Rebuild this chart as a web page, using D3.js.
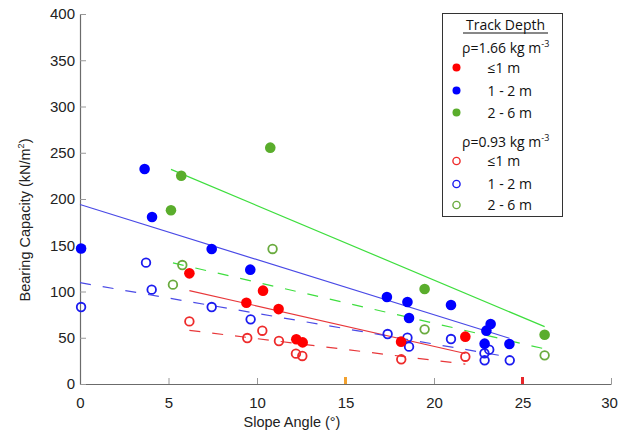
<!DOCTYPE html>
<html><head><meta charset="utf-8">
<script src="https://cdn.jsdelivr.net/npm/d3@7"></script>
<style>body{margin:0;background:#fff}svg{display:block}</style>
</head><body>
<svg id="c" width="618" height="434"></svg>
<script>
// Data: [slope angle (deg), bearing capacity (kN/m2)]
const dense_le1 = [[6.18,119.6],[9.4,87.9],[10.34,100.9],[11.22,81],[12.22,48.3],[12.58,45],[18.14,45.8],[21.77,51.2]];
const dense_1to2 = [[0.06,146.5],[3.65,232.5],[4.07,180.5],[7.44,146],[9.62,123.6],[17.34,94],[18.5,88.6],[18.59,71.4],[20.96,85.4],[22.96,57.7],[23.2,64.9],[22.86,43.6],[24.26,43.2]];
const dense_2to6 = [[5.14,187.8],[5.72,225.2],[10.75,255.5],[19.47,102.7],[26.25,53.3]];
const loose_le1 = [[6.18,67.7],[9.45,49.7],[10.3,57.6],[11.24,46.5],[12.2,32.8],[12.56,30.3],[18.15,26.7],[21.77,29.5]];
const loose_1to2 = [[0.06,83.2],[3.73,131.2],[4.05,102],[7.44,83.2],[9.64,69.9],[17.38,54],[18.5,50],[18.59,40.4],[20.96,48.6],[22.85,33.2],[23.12,37.1],[22.86,25.6],[24.28,25.6]];
const loose_2to6 = [[5.25,107.4],[5.78,128.6],[10.88,146],[19.47,59.1],[26.25,31]];
// Trend lines: [[x0,y0],[x1,y1]]
const trend_dense_le1 = [[6.18,101],[21.77,33]];
const trend_dense_1to2 = [[0,194],[24.26,49.5]];
const trend_dense_2to6 = [[5.14,232],[26.25,62]];
const trend_loose_le1 = [[6.18,58],[21.77,21.5]];
const trend_loose_1to2 = [[0,109.5],[24.28,29]];
const trend_loose_2to6 = [[5.25,131],[26.25,38]];
const xTicks = [0,5,10,15,20,25,30];
const yTicks = [0,50,100,150,200,250,300,350,400];
const markedAngles = [15,25];
const legendLabels = ["\u22641 m","1 - 2 m","2 - 6 m"];

const svg = d3.select("#c");
const x = d3.scaleLinear().domain([0,30]).range([80,611]);
const y = d3.scaleLinear().domain([0,400]).range([384,14]);
const axisCol = "#6b6b6b";
const fillCols = {r:"#ff0000", b:"#0000ff", g:"#5aad2c"};
const openCols = {r:"#ee2b2b", b:"#1b1bf0", g:"#6aab3f"};
const lineCols = {r:"#e8373a", b:"#4a4ae6", g:"#3ede3e"};

// axes
const xAxis = d3.axisBottom(x).tickValues(xTicks).tickSizeInner(-6).tickSizeOuter(0).tickPadding(10);
const yAxis = d3.axisLeft(y).tickValues(yTicks).tickSizeInner(-6).tickSizeOuter(0).tickPadding(5);
const gx = svg.append("g").attr("transform","translate(0,384)").call(xAxis);
const gy = svg.append("g").attr("transform","translate(80,0)").call(yAxis);
[gx,gy].forEach(g=>{
  g.select(".domain").attr("stroke",axisCol).attr("stroke-width",1.2);
  g.selectAll(".tick line").attr("stroke","#999");
  g.selectAll(".tick text").attr("fill","#222").attr("font-family","Liberation Sans, Arial, sans-serif").attr("font-size",15);
});
gx.selectAll(".tick text").attr("dy","0.9em").attr("dx",d=>d===30?-2:0);

// coloured marks on x axis
svg.selectAll("rect.mark").data(markedAngles).enter().append("rect")
  .attr("x",d=>x(d)-1.5).attr("y",377).attr("width",3).attr("height",7)
  .attr("fill",(d,i)=>i===0?"#f2a12e":"#e8262a");

// axis labels
svg.append("text").attr("x",292).attr("y",427).attr("text-anchor","middle")
  .attr("font-family","Liberation Sans, Arial, sans-serif").attr("font-size",14.5).attr("fill","#222")
  .text("Slope Angle (\u00b0)");
const yl = svg.append("text").attr("transform","translate(30,220) rotate(-90)").attr("text-anchor","middle")
  .attr("font-family","Liberation Sans, Arial, sans-serif").attr("font-size",14.5).attr("fill","#222");
yl.append("tspan").text("Bearing Capacity (kN/m");
yl.append("tspan").text("2").attr("font-size",9).attr("dy",-6);
yl.append("tspan").text(")").attr("dy",6);

// trend lines
const line = d3.line().x(d=>x(d[0])).y(d=>y(d[1]));
const trends = [
  [trend_dense_2to6,"g",false],[trend_dense_1to2,"b",false],[trend_dense_le1,"r",false],
  [trend_loose_2to6,"g",true],[trend_loose_1to2,"b",true],[trend_loose_le1,"r",true]];
trends.forEach(([d,c,dash])=>{
  svg.append("path").datum(d).attr("d",line).attr("fill","none")
    .attr("stroke",lineCols[c]).attr("stroke-width",1.2)
    .attr("stroke-dasharray",dash?"11,12":null);
});

// points
const sets = [
  [loose_le1,"r",true],[loose_1to2,"b",true],[loose_2to6,"g",true],
  [dense_le1,"r",false],[dense_2to6,"g",false],[dense_1to2,"b",false]];
sets.forEach(([d,c,open])=>{
  svg.append("g").selectAll("circle").data(d).enter().append("circle")
    .attr("cx",p=>x(p[0])).attr("cy",p=>y(p[1]))
    .attr("r",open?4.3:5.3)
    .attr("fill",open?"none":fillCols[c])
    .attr("stroke",open?openCols[c]:"none").attr("stroke-width",open?1.8:0);
});

// legend
const lg = svg.append("g");
lg.append("rect").attr("x",442.5).attr("y",13.5).attr("width",120).attr("height",203)
  .attr("fill","#fff").attr("stroke","#333").attr("stroke-width",1);
const lf = "Open Sans, Lato, sans-serif";
lg.append("text").attr("x",505.5).attr("y",30).attr("text-anchor","middle")
  .attr("font-family",lf).attr("font-size",14).attr("fill","#111").text("Track Depth");
lg.append("line").attr("x1",463).attr("x2",548).attr("y1",33).attr("y2",33).attr("stroke","#111").attr("stroke-width",1);
const groups = [
  {title:"1.66", ty:53, ys:[67.5,90.5,112.5], open:false},
  {title:"0.93", ty:146.5, ys:[161,184,205], open:true}];
groups.forEach(gr=>{
  const t = lg.append("text").attr("x",462).attr("y",gr.ty).attr("font-family",lf).attr("font-size",14).attr("fill","#111");
  t.append("tspan").text("\u03c1="+gr.title+" kg m");
  t.append("tspan").text("-3").attr("font-size",9).attr("dy",-6);
  ["r","b","g"].forEach((c,i)=>{
    lg.append("circle").attr("cx",456.5).attr("cy",gr.ys[i]).attr("r",gr.open?3.6:4)
      .attr("fill",gr.open?"none":fillCols[c]).attr("stroke",gr.open?openCols[c]:"none").attr("stroke-width",gr.open?1.4:0);
    lg.append("text").attr("x",487.5).attr("y",gr.ys[i]+5).attr("font-family",lf).attr("font-size",14).attr("fill","#111").text(legendLabels[i]);
  });
});
</script>
</body></html>
